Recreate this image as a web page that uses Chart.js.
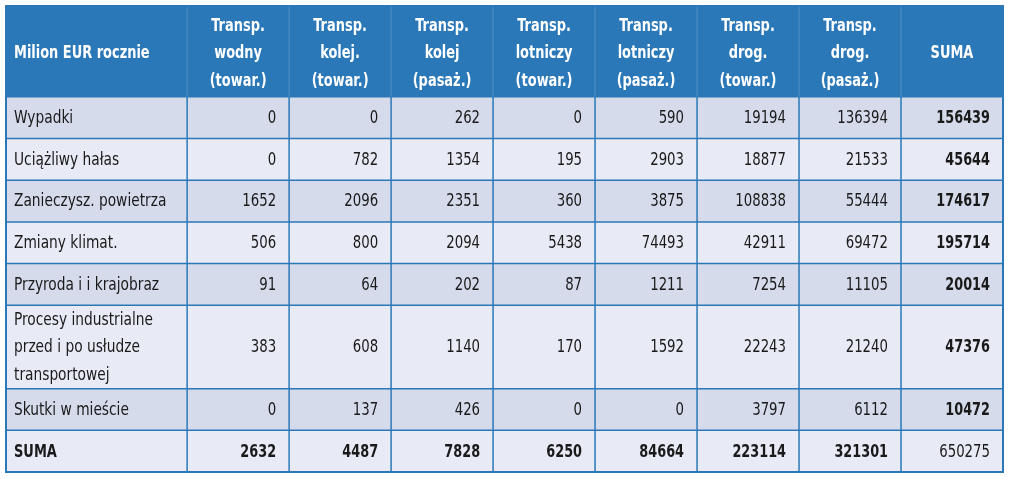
<!DOCTYPE html>
<html>
<head>
<meta charset="utf-8">
<script src="https://cdn.jsdelivr.net/npm/chart.js@4"></script>
<style>
html, body { margin: 0; padding: 0; background: #fff; }
#wrap { width: 1013px; height: 479px; }
</style>
</head>
<body>
<div id="wrap"><canvas id="tabela"></canvas></div>
<script>
// Naglowki
var naglowek = 'Milion EUR rocznie';
var kolumny = [
    ['Transp.', 'wodny', '(towar.)'],
    ['Transp.', 'kolej.', '(towar.)'],
    ['Transp.', 'kolej', '(pasaż.)'],
    ['Transp.', 'lotniczy', '(towar.)'],
    ['Transp.', 'lotniczy', '(pasaż.)'],
    ['Transp.', 'drog.', '(towar.)'],
    ['Transp.', 'drog.', '(pasaż.)'],
    ['SUMA']
];
var wiersze = [
    ['Wypadki'],
    ['Uciążliwy hałas'],
    ['Zanieczysz. powietrza'],
    ['Zmiany klimat.'],
    ['Przyroda i i krajobraz'],
    ['Procesy industrialne', 'przed i po usłudze', 'transportowej'],
    ['Skutki w mieście'],
    ['SUMA']
];

// Wartosci (mln EUR rocznie)
var wypadki      = [0, 0, 262, 0, 590, 19194, 136394, 156439];
var halas        = [0, 782, 1354, 195, 2903, 18877, 21533, 45644];
var powietrze    = [1652, 2096, 2351, 360, 3875, 108838, 55444, 174617];
var klimat       = [506, 800, 2094, 5438, 74493, 42911, 69472, 195714];
var przyroda     = [91, 64, 202, 87, 1211, 7254, 11105, 20014];
var procesy      = [383, 608, 1140, 170, 1592, 22243, 21240, 47376];
var skutki       = [0, 137, 426, 0, 0, 3797, 6112, 10472];
var suma         = [2632, 4487, 7828, 6250, 84664, 223114, 321301, 650275];
var wartosci = [wypadki, halas, powietrze, klimat, przyroda, procesy, skutki, suma];

// Uklad tabeli w jednostkach osi
var szerKolumn = [1.776, 1, 1, 1, 1, 1, 1, 1, 1];
var wysWierszy = [2.18, 1, 1, 1, 1, 1, 2, 1, 1];

var niebieski = '#2b78b8';
var tloCiemne = '#d5dbeb';
var tloJasne = '#e8ebf6';
var czcionka = '"Liberation Sans Narrow", "DejaVu Sans Condensed", sans-serif';

function sumaDo(tab, n) {
    var s = 0;
    for (var i = 0; i < n; i++) s += tab[i];
    return s;
}

// tekst zwezony w poziomie (czcionka oryginalu jest waska)
function tekst(ctx, t, x, y, skala) {
    ctx.save();
    ctx.translate(x, y);
    ctx.scale(skala, 1);
    ctx.fillText(t, 0, 0);
    ctx.restore();
}

// Plugin rysujacy komorki przez skale wykresu
var rysujTabele = {
    id: 'rysujTabele',
    beforeDatasetsDraw: function(chart) {
        var ctx = chart.ctx;
        var sx = chart.scales.x;
        var sy = chart.scales.y;
        var nk = szerKolumn.length;
        var nw = wysWierszy.length;
        var X = [], Y = [];
        for (var i = 0; i <= nk; i++) X.push(sx.getPixelForValue(sumaDo(szerKolumn, i)));
        for (var j = 0; j <= nw; j++) Y.push(sy.getPixelForValue(sumaDo(wysWierszy, j)));

        ctx.save();
        // tla
        ctx.fillStyle = niebieski;
        ctx.fillRect(X[0], Y[0], X[nk] - X[0], Y[1] - Y[0]);
        for (var r = 1; r < nw; r++) {
            ctx.fillStyle = (r % 2 == 1) ? tloCiemne : tloJasne;
            ctx.fillRect(X[0], Y[r], X[nk] - X[0], Y[r + 1] - Y[r]);
        }

        // linie
        ctx.strokeStyle = niebieski;
        ctx.lineWidth = 1.5;
        for (var r = 1; r < nw; r++) {
            ctx.beginPath();
            ctx.moveTo(X[0], Y[r]);
            ctx.lineTo(X[nk], Y[r]);
            ctx.stroke();
        }
        for (var c = 1; c < nk; c++) {
            ctx.strokeStyle = niebieski;
            ctx.beginPath();
            ctx.moveTo(X[c], Y[1]);
            ctx.lineTo(X[c], Y[nw]);
            ctx.stroke();
            ctx.strokeStyle = 'rgba(255,255,255,0.12)';
            ctx.beginPath();
            ctx.moveTo(X[c], Y[0]);
            ctx.lineTo(X[c], Y[1]);
            ctx.stroke();
        }
        ctx.strokeStyle = niebieski;
        ctx.lineWidth = 2;
        ctx.strokeRect(X[0], Y[0], X[nk] - X[0], Y[nw] - Y[0]);

        // naglowek
        var odstep = 27.5;
        var srodekN = (Y[0] + Y[1]) / 2 + 2;
        ctx.fillStyle = '#ffffff';
        ctx.font = 'bold 18px ' + czcionka;
        ctx.textBaseline = 'middle';
        ctx.textAlign = 'left';
        tekst(ctx, naglowek, X[0] + 8, srodekN, 0.8);
        ctx.textAlign = 'center';
        kolumny.forEach(function(linie, k) {
            var cx = (X[k + 1] + X[k + 2]) / 2;
            var y0 = srodekN - (linie.length - 1) * odstep / 2;
            linie.forEach(function(t, n) {
                tekst(ctx, t, cx, y0 + n * odstep, 0.8);
            });
        });

        // wiersze
        ctx.fillStyle = '#1a1a1a';
        wiersze.forEach(function(linie, w) {
            var ya = Y[w + 1], yb = Y[w + 2];
            var cy = (ya + yb) / 2 + 1;
            var ostatni = (w == wiersze.length - 1);
            ctx.font = (ostatni ? 'bold ' : '') + '17px ' + czcionka;
            ctx.textAlign = 'left';
            var y0 = cy - (linie.length - 1) * odstep / 2;
            linie.forEach(function(t, n) {
                tekst(ctx, t, X[0] + 8, y0 + n * odstep, ostatni ? 0.85 : 0.9);
            });
            ctx.textAlign = 'right';
            wartosci[w].forEach(function(v, k) {
                var gruba = (ostatni || k == wartosci[w].length - 1) && !(ostatni && k == wartosci[w].length - 1);
                ctx.font = (gruba ? 'bold ' : '') + '17px ' + czcionka;
                tekst(ctx, String(v), X[k + 2] - 13, cy, gruba ? 0.84 : 0.87);
            });
        });
        ctx.restore();
    }
};

document.addEventListener('DOMContentLoaded', function() {
    var ctx = document.getElementById('tabela').getContext('2d');
    var tabela = new Chart(ctx, {
        type: 'scatter',
        data: { datasets: [] },
        options: {
            responsive: true,
            maintainAspectRatio: false,
            animation: false,
            layout: { padding: { left: 6, top: 6, right: 10, bottom: 7 } },
            plugins: {
                legend: { display: false },
                tooltip: { enabled: false }
            },
            scales: {
                x: { type: 'linear', display: false, min: 0, max: sumaDo(szerKolumn, szerKolumn.length) },
                y: { type: 'linear', display: false, reverse: true, min: 0, max: sumaDo(wysWierszy, wysWierszy.length) }
            }
        },
        plugins: [rysujTabele]
    });
});
</script>
</body>
</html>
